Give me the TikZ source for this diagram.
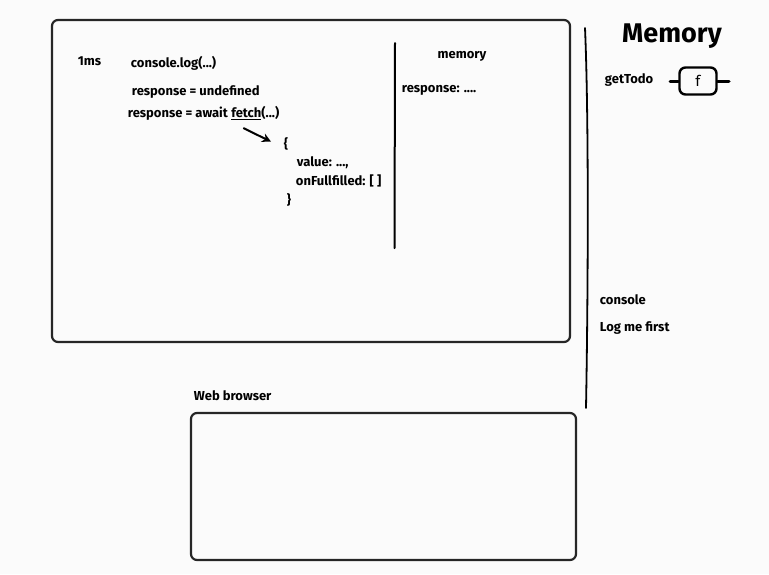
\documentclass[tikz,border=0pt]{standalone}
\usepackage{fontspec}
\setmainfont{Fira Sans}
\usepackage{tikz}
\usetikzlibrary{arrows.meta}

\tikzset{
  sketch/.style={line width=2.2pt, rounded corners=6pt, line cap=round, draw=black!85},
  txt/.style={anchor=west, inner sep=0.75pt, font=\fontsize{13}{15}\selectfont\bfseries},
}

\begin{document}
\begin{tikzpicture}[x=1pt,y=1pt,yscale=-1]
%set diagram to the reference size
\useasboundingbox[fill=white!97!gray] (0,0) rectangle (769,574);

%Rectangles: call stack and web browser
\draw[sketch] (52,20) rectangle (570,342);
\draw[sketch] (191,413) rectangle (576,560);

%Straight Lines: memory divider and side bracket
\draw[line width=2pt, line cap=round] (395,43) -- (394.5,248);
\draw[line width=1.8pt, line cap=round] (585,28) .. controls (589,120) and (588,300) .. (586,408);

% Text Node
\node[txt] (ms) at (77,61) {1ms};
% Text Node
\node[txt] (log) at (130,63) {console.log(...)};
% Text Node
\node[txt] (undef) at (131,92) {response = undefined};
% Text Node
\node[txt] (await) at (127,114) {response = await};
\node[txt, anchor=base west] (fetch) at ([xshift=1.5pt]await.base east) {\underline{fetch}(...)};
% Text Node
\node[txt] (open) at (283,144) {\{};
\node[txt] (val) at (296,163) {value: ...,};
\node[txt] (onf) at (295,181) {onFullfilled: [ ]};
\node[txt] (close) at (286,200) {\}};

%Straight Lines: arrow to the promise (yshift is flipped by yscale)
\draw[line width=2pt, -{Stealth[length=9pt,width=9pt]}] ([xshift=-12pt,yshift=7pt]fetch.south) -- ([xshift=-15pt,yshift=5pt]open.north);

% Text Node
\node[txt, anchor=center] (mem) at (462,56) {memory};
\node[txt] (resp) at (401,90) {response: ....};

% Text Node
\node[anchor=center, inner sep=0.75pt, font=\fontsize{27}{31}\selectfont\bfseries] (title) at (672,36) {Memory};
\node[txt] (todo) at (604,80) {getTodo};
\node[draw, line width=2.4pt, rounded corners=6pt, minimum width=37pt, minimum height=27pt, inner sep=0pt, font=\fontsize{15}{17}\selectfont] (fn) at (698,81) {f};
\coordinate (fnl) at (670,81);
\coordinate (fnr) at (729,81);
\draw[line width=3pt, line cap=round] (fnl) -- (fn.west);
\draw[line width=3pt, line cap=round] (fn.east) -- (fnr);

% Text Node
\node[txt] (cons) at (599,300) {console};
\node[txt] (first) at (599,328) {Log me first};
% Text Node
\node[txt] (web) at (193,396) {Web browser};

\end{tikzpicture}
\end{document}
